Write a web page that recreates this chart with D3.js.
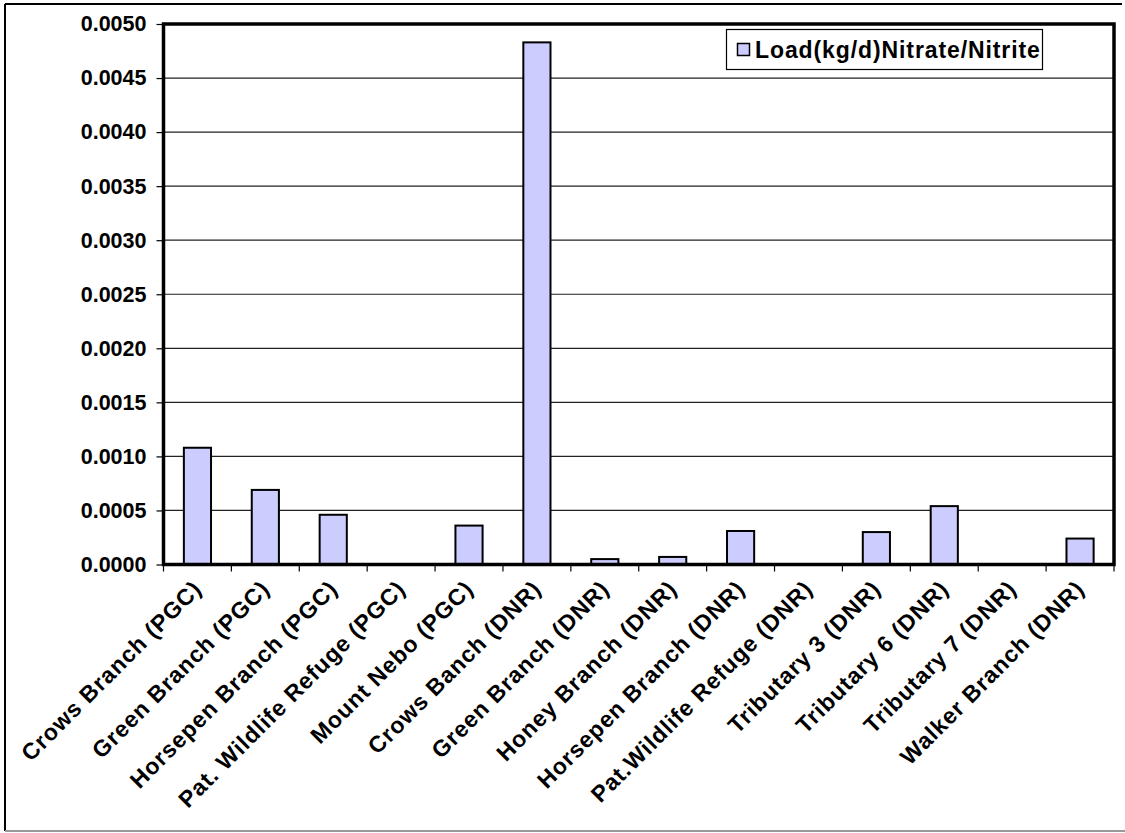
<!DOCTYPE html>
<html>
<head>
<meta charset="utf-8">
<script src="https://cdn.jsdelivr.net/npm/d3@7"></script>
<style>
  html, body { margin: 0; padding: 0; background: #fff; }
  svg { display: block; font-family: Arial, "Liberation Sans", sans-serif; }
</style>
</head>
<body>
<svg id="chart" width="1125" height="833"></svg>
<script>
// Monitoring stations (PGC and DNR sampling sites)
const stations = [
  "Crows Branch (PGC)", "Green Branch (PGC)", "Horsepen Branch (PGC)",
  "Pat. Wildlife Refuge (PGC)", "Mount Nebo (PGC)", "Crows Banch (DNR)",
  "Green Branch (DNR)", "Honey Branch (DNR)", "Horsepen Branch (DNR)",
  "Pat.Wildlife Refuge (DNR)", "Tributary 3 (DNR)", "Tributary 6 (DNR)",
  "Tributary 7 (DNR)", "Walker Branch (DNR)"
];
// Nitrate/Nitrite load, kg/d
const nitrateLoad = [
  0.00108, 0.00069, 0.00046, 0, 0.00036, 0.00483,
  0.00005, 0.00007, 0.00031, 0, 0.00030, 0.00054, 0, 0.00024
];
const seriesName = "Load(kg/d)Nitrate/Nitrite";
const yTicks = [0, 0.0005, 0.001, 0.0015, 0.002, 0.0025, 0.003, 0.0035, 0.004, 0.0045, 0.005];

const svg = d3.select("#chart");
const plot = { left: 163.5, right: 1114, top: 24, bottom: 564.5 };

// outer frame of the chart
svg.append("line").attr("x1", 5).attr("y1", 4).attr("x2", 1122).attr("y2", 4)
  .attr("stroke", "#000").attr("stroke-width", 2);
svg.append("line").attr("x1", 5).attr("y1", 4).attr("x2", 5).attr("y2", 831)
  .attr("stroke", "#000").attr("stroke-width", 2);
svg.append("line").attr("x1", 5).attr("y1", 831).attr("x2", 1125).attr("y2", 831)
  .attr("stroke", "#999").attr("stroke-width", 2);

const x = d3.scaleBand().domain(stations)
  .range([plot.left, plot.right]).paddingInner(0.6).paddingOuter(0.3);
const xCat = d3.scaleBand().domain(stations).range([plot.left, plot.right]);
const y = d3.scaleLinear().domain([0, 0.005]).range([plot.bottom, plot.top]);

// horizontal gridlines
svg.append("g").selectAll("line").data(yTicks).join("line")
  .attr("x1", plot.left).attr("x2", plot.right)
  .attr("y1", d => y(d)).attr("y2", d => y(d))
  .attr("stroke", "#222").attr("stroke-width", 1.2);

// y axis ticks and labels
const yAxis = d3.axisLeft(y).tickValues(yTicks).tickFormat(d3.format(".4f"))
  .tickSize(7).tickPadding(10);
const gy = svg.append("g").attr("transform", `translate(${plot.left},0)`).call(yAxis);
gy.select(".domain").remove();
gy.selectAll(".tick line").attr("stroke", "#000").attr("stroke-width", 1.2);
gy.selectAll(".tick text").attr("font-size", 21.5).attr("font-weight", "bold")
  .attr("fill", "#000").attr("font-family", "Arial, 'Liberation Sans', sans-serif");

// bars
svg.append("g").selectAll("rect").data(nitrateLoad).join("rect")
  .attr("x", (d, i) => x(stations[i]))
  .attr("width", x.bandwidth())
  .attr("y", d => y(d))
  .attr("height", d => y(0) - y(d))
  .attr("fill", "#CCCCFF").attr("stroke", "#000").attr("stroke-width", 2);

// x axis: ticks at category boundaries
const boundaries = stations.map(s => xCat(s)).concat([plot.right]);
svg.append("g").selectAll("line").data(boundaries).join("line")
  .attr("x1", d => d).attr("x2", d => d)
  .attr("y1", plot.bottom).attr("y2", plot.bottom + 7)
  .attr("stroke", "#000").attr("stroke-width", 1.2);

// plot area frame
svg.append("rect")
  .attr("x", plot.left).attr("y", plot.top)
  .attr("width", plot.right - plot.left).attr("height", plot.bottom - plot.top)
  .attr("fill", "none").attr("stroke", "#000").attr("stroke-width", 3.5);

// rotated category labels
svg.append("g").selectAll("text").data(stations).join("text")
  .attr("transform", d => {
    const cx = xCat(d) + xCat.bandwidth() / 2;
    return `translate(${cx},${plot.bottom + 20}) rotate(-45)`;
  })
  .attr("text-anchor", "end")
  .attr("dy", "0.35em")
  .attr("font-size", 23).attr("font-weight", "bold").attr("fill", "#000")
  .attr("letter-spacing", 0.9)
  .text(d => d);

// legend
const lg = svg.append("g");
lg.append("rect").attr("x", 726.5).attr("y", 29.5).attr("width", 316).attr("height", 40)
  .attr("fill", "#fff").attr("stroke", "#000").attr("stroke-width", 1.2);
lg.append("rect").attr("x", 737.5).attr("y", 43.5).attr("width", 12).attr("height", 12)
  .attr("fill", "#CCCCFF").attr("stroke", "#000").attr("stroke-width", 1.5);
lg.append("text").attr("x", 755).attr("y", 57.5)
  .attr("font-size", 23).attr("font-weight", "bold").attr("fill", "#000")
  .attr("letter-spacing", 0.9)
  .text(seriesName);
</script>
</body>
</html>
